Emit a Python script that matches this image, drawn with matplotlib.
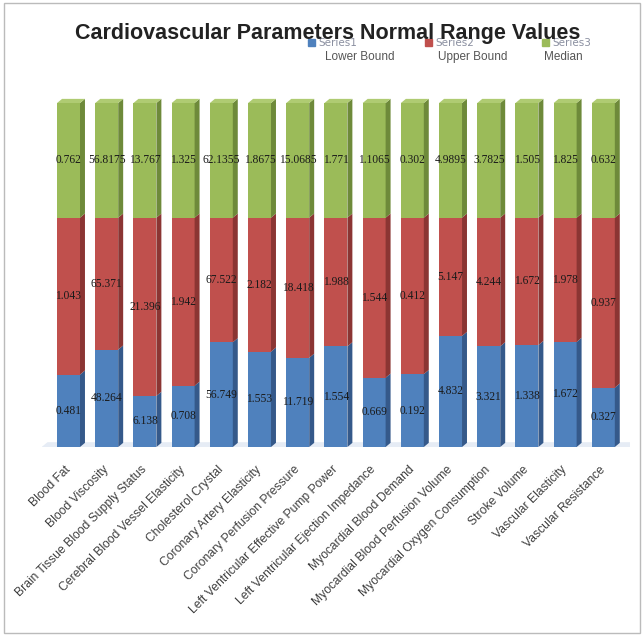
import numpy as np
import matplotlib
matplotlib.use("Agg")
import matplotlib.pyplot as plt
from matplotlib.patches import Rectangle, Patch

categories = [
    "Blood Fat", "Blood Viscosity", "Brain Tissue Blood Supply Status",
    "Cerebral Blood Vessel Elasticity", "Cholesterol Crystal",
    "Coronary Artery Elasticity", "Coronary Perfusion Pressure",
    "Left Ventricular Effective Pump Power", "Left Ventricular Ejection Impedance",
    "Myocardial Blood Demand", "Myocardial Blood Perfusion Volume",
    "Myocardial Oxygen Consumption", "Stroke Volume", "Vascular Elasticity",
    "Vascular Resistance",
]
lower = [0.481, 48.264, 6.138, 0.708, 56.749, 1.553, 11.719, 1.554, 0.669,
         0.192, 4.832, 3.321, 1.338, 1.672, 0.327]
upper = [1.043, 65.371, 21.396, 1.942, 67.522, 2.182, 18.418, 1.988, 1.544,
         0.412, 5.147, 4.244, 1.672, 1.978, 0.937]
median = [0.762, 56.8175, 13.767, 1.325, 62.1355, 1.8675, 15.0685, 1.771, 1.1065,
          0.302, 4.9895, 3.7825, 1.505, 1.825, 0.632]
series_names = ["Series1", "Series2", "Series3"]
series_titles = ["Lower Bound", "Upper Bound", "Median"]

colors = ["#4F81BD", "#C0504D", "#9BBB59"]
side_colors = ["#35598A", "#8B3533", "#6E8A3A"]
top_color = "#AFCB72"

W, H = 644, 635
fig = plt.figure(figsize=(W / 100, H / 100), dpi=100)
# axes placed so bars run from y=447 (bottom) to y=103 (top) in pixels
ax = fig.add_axes([41.8 / W, (H - 447) / H, 588.3 / W, 344 / H * 1.04])
ax.set_xlim(-0.7, 14.7)
ax.set_ylim(0, 1.04)

data = np.array([lower, upper, median], dtype=float)
frac = data / data.sum(axis=0)
x = np.arange(len(categories))
bw = 0.6
dx, dy = 0.13, 0.012

bottom = np.zeros(len(categories))
for s in range(3):
    h = frac[s]
    ax.bar(x, h, bw, bottom=bottom, color=colors[s], edgecolor="none", zorder=3)
    # darker side face for the 3D look
    for xi, b, hh in zip(x, bottom, h):
        xs = [xi + bw / 2, xi + bw / 2 + dx, xi + bw / 2 + dx, xi + bw / 2]
        ys = [b, b + dy, b + hh + dy, b + hh]
        ax.fill(xs, ys, color=side_colors[s], lw=0, zorder=3)
    for xi, b, hh, v in zip(x, bottom, h, data[s]):
        ax.text(xi, b + hh / 2, f"{v:g}", ha="center", va="center",
                fontsize=8.3, family="Liberation Serif", color="#1a1a1a", zorder=5)
    bottom = bottom + h

# top faces
for xi, t in zip(x, bottom):
    xs = [xi - bw / 2, xi - bw / 2 + dx, xi + bw / 2 + dx, xi + bw / 2]
    ys = [t, t + dy, t + dy, t]
    ax.fill(xs, ys, color=top_color, lw=0, zorder=3)

# floor
ax.fill([-0.75, -0.55, 14.85, 14.65], [-0.004, 0.014, 0.014, -0.004],
        color="#E6ECF5", lw=0, zorder=1)
ax.plot([-0.75, 14.65], [-0.004, -0.004], color="#C9D3E6", lw=0.8, zorder=1)

ax.set_xticks(x)
ax.set_xticklabels(categories, rotation=45, ha="right", va="center",
                   rotation_mode="anchor", fontsize=8.7, family="Liberation Sans",
                   color="#404040")
ax.tick_params(axis="x", length=0, pad=15)
ax.set_yticks([])
for sp in ax.spines.values():
    sp.set_visible(False)
ax.patch.set_alpha(0)

# legend (partly covered by the title, as in the original)
handles = [Patch(color=c) for c in colors]
leg = fig.legend(handles, series_names, loc="center", ncol=3,
                 bbox_to_anchor=(450 / W, 1 - 43 / H), frameon=False,
                 fontsize=7.5, handlelength=0.6, handleheight=0.6,
                 columnspacing=6.5, handletextpad=0.4, labelcolor="#8a8fa0")
for t, xp in zip(series_titles, [360, 473, 563]):
    fig.text(xp / W, 1 - 57 / H, t, ha="center", va="center", fontsize=8.5,
             family="Liberation Sans", color="#555555")

fig.text(328 / W, 1 - 34 / H, "Cardiovascular Parameters Normal Range Values",
         ha="center", va="center", fontsize=15.5, fontweight="bold",
         family="Liberation Sans", color="#222222", zorder=10)

fig.patches.append(Rectangle((4 / W, 2 / H), 1 - 8 / W, 1 - 5 / H,
                             transform=fig.transFigure, fill=False,
                             edgecolor="#BBBBBB", lw=1))

fig.savefig("out.png", dpi=100)
